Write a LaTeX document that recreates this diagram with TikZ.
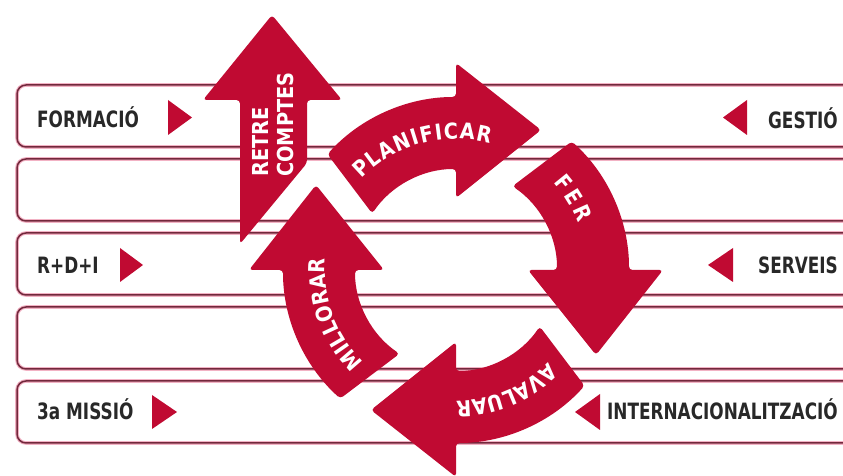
\documentclass[tikz,border=0pt]{standalone}
\usepackage{fontspec}
\usetikzlibrary{decorations.text}
\newfontfamily\labfont{DejaVu Sans}[FakeStretch=0.75]
\newfontfamily\arcfont{DejaVu Sans}[FakeStretch=0.88]
\newcommand\arcf{\arcfont\bfseries\fontsize{22}{22}\selectfont}
\definecolor{crimson}{RGB}{192,10,50}
\definecolor{bandline}{RGB}{115,40,60}
\definecolor{bandhalo}{RGB}{242,178,196}
\definecolor{labtext}{RGB}{40,40,40}
\newcommand\cyclearrow{(138:173pt) arc[start angle=138,end angle=90,radius=173pt] -- (0,207) -- (85,140) -- (0,72) -- (0,101) arc[start angle=90,end angle=146,radius=101pt] -- cycle}
\begin{document}
\begin{tikzpicture}[x=1pt,y=1pt,
  bandhalo/.style={draw=bandhalo, line width=3.6pt, rounded corners=9pt},
  bandedge/.style={draw=bandline, line width=1.5pt, rounded corners=9pt},
  marker/.style={fill=crimson},
  lab/.style={text=labtext, font=\labfont\bfseries\fontsize{22.5}{22.5}\selectfont, inner sep=0pt},
  cyc/.style={fill=crimson, rounded corners=3.5pt},
  vlab/.style={text=white, font=\arcf, inner sep=0pt, rotate=90, anchor=base west}
]
\useasboundingbox (0,0) rectangle (843,476);
\fill[white] (0,0) rectangle (843,476);
% bands
\foreach \t in {85,159,233,307,381}{
  \draw[bandhalo] (17,{476-\t-62}) rectangle (880,{476-\t});
  \draw[bandedge] (17,{476-\t-62}) rectangle (880,{476-\t});
}
% labels
\node (formacio) [lab, anchor=base west] at (37,348) {FORMACIÓ};
\node (rdi) [lab, anchor=base west] at (37,202) {R+D+I};
\node (missio) [lab, anchor=base west] at (37,56) {3a MISSIÓ};
\node (gestio) [lab, anchor=base east] at (838,347) {GESTIÓ};
\node (serveis) [lab, anchor=base east] at (838,202) {SERVEIS};
\node (internac) [lab, anchor=base east] at (838,56) {INTERNACIONALITZACIÓ};
% markers
\fill[marker] (168,376) -- (168,341) -- (192,358.5) -- cycle;
\fill[marker] (747,376) -- (747,341) -- (723,358.5) -- cycle;
\fill[marker] (120,228) -- (120,194) -- (143,211) -- cycle;
\fill[marker] (733,228) -- (733,194) -- (708,211) -- cycle;
\fill[marker] (152,81) -- (152,47) -- (177,64) -- cycle;
\fill[marker] (600,82) -- (600,46) -- (575,64) -- cycle;
% retre comptes arrow
\fill[cyc] (272,461) -- (342,376) -- (307,376) -- (307,313) -- (240,232) -- (240,376) -- (203,376) -- cycle;
\node (retre) [vlab] at (268,299) {RETRE};
\node (comptes) [vlab] at (293,299) {COMPTES};
% cycle arrows
\begin{scope}[shift={(456,206)}]
  \fill[cyc] \cyclearrow;
  \begin{scope}[rotate=-90]\fill[cyc] \cyclearrow;\end{scope}
  \begin{scope}[rotate=-180]\fill[cyc] \cyclearrow;\end{scope}
  \begin{scope}[rotate=-270]\fill[cyc] \cyclearrow;\end{scope}
  \path[decorate, decoration={text along path, text align=fit to path, text color=white, text={|\arcf|PLANIFICAR}}]
    (136:131pt) arc[start angle=136,end angle=75,radius=131pt];
  \path[decorate, decoration={text along path, text align=fit to path, text color=white, text={|\arcf|FER}}]
    (42:131pt) arc[start angle=42,end angle=21,radius=131pt];
  \path[decorate, decoration={text along path, text align=fit to path, text color=white, text={|\arcf|AVALUAR}}]
    (-45:131pt) arc[start angle=-45,end angle=-90,radius=131pt];
  \path[decorate, decoration={text along path, text align=fit to path, text color=white, text={|\arcf|MILLORAR}}]
    (225:131pt) arc[start angle=225,end angle=175,radius=131pt];
\end{scope}
\end{tikzpicture}
\end{document}
